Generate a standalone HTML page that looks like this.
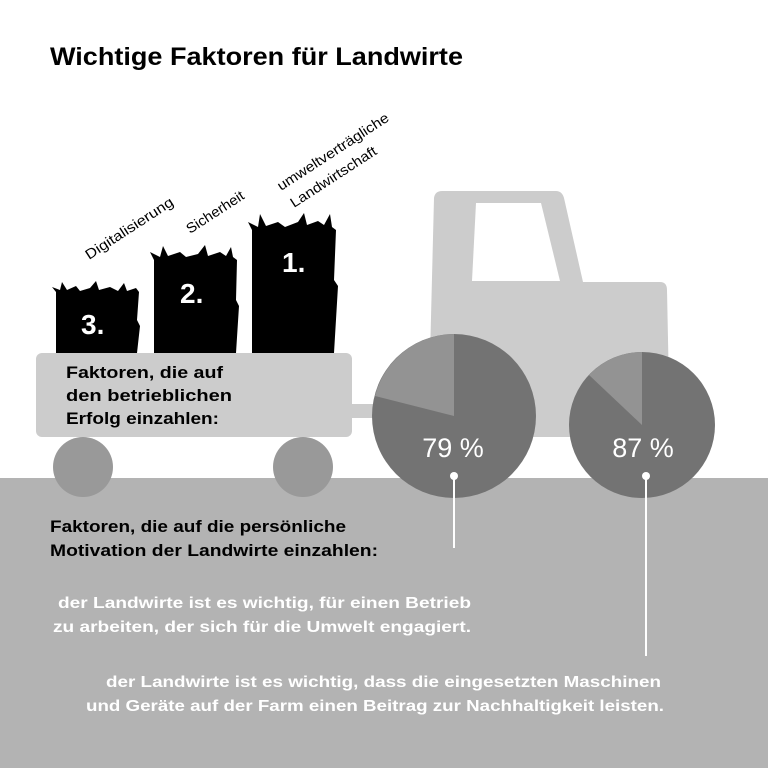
<!DOCTYPE html>
<html><head><meta charset="utf-8"><style>
html,body{margin:0;padding:0;background:#fff}
svg{display:block}
text{font-family:"Liberation Sans",sans-serif}
</style></head><body>
<svg width="768" height="768" viewBox="0 0 768 768" xmlns="http://www.w3.org/2000/svg">
<rect width="768" height="768" fill="#fff"/>
<rect x="0" y="478" width="768" height="290" fill="#b3b3b3"/>
<path d="M442 191 L556 191 Q562 191 564 198 L583 282 L660 282 Q667 282 667 290 L670 437 L428 437 L434 198 Q435 191 442 191 Z" fill="#cccccc"/>
<path d="M476 203 L541 203 L560 281 L472 281 Z" fill="#fff"/>
<rect x="345" y="404" width="40" height="14" fill="#cccccc"/>
<rect x="36" y="353" width="316" height="84" rx="6" fill="#cccccc"/>
<circle cx="83" cy="467" r="30" fill="#999"/>
<circle cx="303" cy="467" r="30" fill="#999"/>
<circle cx="454" cy="416" r="82" fill="#737373"/>
<path d="M454 416 L454 334 A82 82 0 0 0 375 396 Z" fill="#939393"/>
<circle cx="642" cy="425" r="73" fill="#737373"/>
<path d="M642 425 L642 352 A73 73 0 0 0 589 375 Z" fill="#939393"/>
<text x="453" y="457" font-size="27" fill="#fff" text-anchor="middle">79 %</text>
<text x="643" y="457" font-size="27" fill="#fff" text-anchor="middle">87 %</text>
<circle cx="454" cy="476" r="4" fill="#fff"/>
<line x1="454" y1="476" x2="454" y2="548" stroke="#fff" stroke-width="2"/>
<circle cx="646" cy="476" r="4" fill="#fff"/>
<line x1="646" y1="476" x2="646" y2="656" stroke="#fff" stroke-width="2"/>
<g fill="#000">
<path d="M56 353 L56 292 L52 287 L60 290 L62 282 L67 290 L76 286 L80 291 L90 288 L96 281 L99 290 L110 287 L118 291 L124 283 L127 291 L136 288 L139 292 L137 320 L140 326 L137 353 Z"/>
<path d="M154 353 L154 260 L150 252 L160 257 L163 246 L168 256 L180 252 L186 257 L198 254 L205 245 L208 256 L220 252 L226 256 L231 247 L233 257 L237 260 L236 300 L239 306 L236 353 Z"/>
<path d="M252 353 L252 230 L248 222 L258 227 L260 214 L266 226 L278 222 L285 227 L298 222 L304 213 L307 225 L318 221 L324 225 L330 214 L332 227 L336 230 L334 280 L338 286 L334 353 Z"/>
</g>
<g font-weight="bold" font-size="28" fill="#fff">
<text x="81" y="334">3.</text>
<text x="180" y="303">2.</text>
<text x="282" y="272">1.</text>
</g>
<g font-size="14" fill="#000">
<text transform="translate(89,260) rotate(-33)" textLength="102" lengthAdjust="spacingAndGlyphs">Digitalisierung</text>
<text transform="translate(190,234) rotate(-33)" textLength="66" lengthAdjust="spacingAndGlyphs">Sicherheit</text>
<text transform="translate(281,191) rotate(-33)" textLength="130" lengthAdjust="spacingAndGlyphs">umweltverträgliche</text>
<text transform="translate(294,208) rotate(-33)" textLength="100" lengthAdjust="spacingAndGlyphs">Landwirtschaft</text>
</g>
<text x="50" y="65" font-size="25" font-weight="bold" fill="#000" textLength="413" lengthAdjust="spacingAndGlyphs">Wichtige Faktoren für Landwirte</text>
<g font-size="17" font-weight="bold" fill="#000">
<text x="66" y="378" textLength="157" lengthAdjust="spacingAndGlyphs">Faktoren, die auf</text>
<text x="66" y="401" textLength="166" lengthAdjust="spacingAndGlyphs">den betrieblichen</text>
<text x="66" y="424" textLength="153" lengthAdjust="spacingAndGlyphs">Erfolg einzahlen:</text>
<text x="50" y="532" textLength="296" lengthAdjust="spacingAndGlyphs">Faktoren, die auf die persönliche</text>
<text x="50" y="556" textLength="328" lengthAdjust="spacingAndGlyphs">Motivation der Landwirte einzahlen:</text>
</g>
<g font-size="16" font-weight="bold" fill="#fff">
<text x="58" y="608" textLength="413" lengthAdjust="spacingAndGlyphs">der Landwirte ist es wichtig, für einen Betrieb</text>
<text x="53" y="632" textLength="418" lengthAdjust="spacingAndGlyphs">zu arbeiten, der sich für die Umwelt engagiert.</text>
<text x="106" y="687" textLength="555" lengthAdjust="spacingAndGlyphs">der Landwirte ist es wichtig, dass die eingesetzten Maschinen</text>
<text x="86" y="711" textLength="578" lengthAdjust="spacingAndGlyphs">und Geräte auf der Farm einen Beitrag zur Nachhaltigkeit leisten.</text>
</g>
</svg>
</body></html>
